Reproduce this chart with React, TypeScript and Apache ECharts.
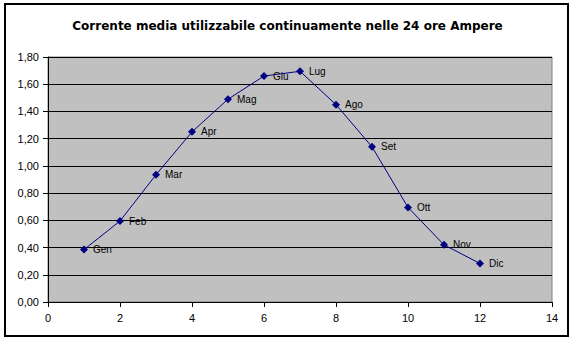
import React, { useEffect, useRef } from "react";
import * as echarts from "echarts";

const months = ["Gen", "Feb", "Mar", "Apr", "Mag", "Giu", "Lug", "Ago", "Set", "Ott", "Nov", "Dic"];
const xValues = [1, 2, 3, 4, 5, 6, 7, 8, 9, 10, 11, 12];
const current = [0.385, 0.595, 0.935, 1.25, 1.49, 1.66, 1.695, 1.45, 1.14, 0.695, 0.42, 0.283];
const titleText = "Corrente media utilizzabile continuamente nelle 24 ore Ampere";

export default function App() {
  const ref = useRef<HTMLDivElement>(null);
  useEffect(() => {
    if (!ref.current) return;
    const chart = echarts.init(ref.current, null, { renderer: "svg" });
    const font = "'Liberation Sans', Arial, sans-serif";
    chart.setOption({
      animation: false,
      backgroundColor: "#ffffff",
      textStyle: { fontFamily: font },
      title: {
        text: titleText,
        left: "center",
        top: 15,
        textStyle: { fontSize: 12, fontWeight: "bold", color: "#000", fontFamily: "'DejaVu Sans', sans-serif" },
      },
      graphic: [
        {
          type: "rect",
          shape: { x: 5, y: 4, width: 563, height: 332 },
          style: { fill: "none", stroke: "#000", lineWidth: 2 },
          silent: true,
        },
      ],
      grid: {
        left: 48,
        right: 23,
        top: 57,
        bottom: 39,
        show: true,
        backgroundColor: "#c0c0c0",
        borderColor: "#808080",
        borderWidth: 1,
      },
      xAxis: {
        type: "value",
        min: 0,
        max: 14,
        interval: 2,
        axisLine: { show: true, lineStyle: { color: "#000", width: 1 } },
        axisTick: { show: true, length: 5, lineStyle: { color: "#000" } },
        axisLabel: { color: "#000", fontSize: 11, margin: 10, fontFamily: font },
        splitLine: { show: false },
      },
      yAxis: {
        type: "value",
        min: 0,
        max: 1.8,
        interval: 0.2,
        axisLine: { show: true, lineStyle: { color: "#000", width: 1 } },
        axisTick: { show: true, length: 5, lineStyle: { color: "#000" } },
        axisLabel: {
          color: "#000",
          fontSize: 11,
          margin: 9,
          fontFamily: font,
          formatter: (v: number) => v.toFixed(2).replace(".", ","),
        },
        splitLine: { show: true, lineStyle: { color: "#000", width: 1 } },
      },
      series: [
        {
          type: "line",
          data: months.map((m, i) => ({ name: m, value: [xValues[i], current[i]] })),
          symbol: "diamond",
          symbolSize: 8,
          lineStyle: { color: "#000080", width: 1 },
          itemStyle: { color: "#000080" },
          label: {
            show: true,
            position: "right",
            distance: 5,
            formatter: "{b}",
            color: "#000",
            fontSize: 10,
            fontFamily: font,
          },
        },
      ],
    });
    return () => chart.dispose();
  }, []);
  return (
    <div
      ref={ref}
      style={{ position: "fixed", left: 0, top: 0, width: 575, height: 341 }}
    />
  );
}
